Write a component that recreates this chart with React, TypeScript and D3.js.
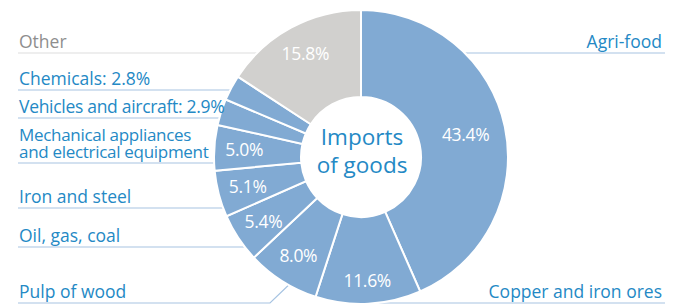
import React from 'react';
import * as d3 from 'd3';

const categories = [
  'Agri-food',
  'Copper and iron ores',
  'Pulp of wood',
  'Oil, gas, coal',
  'Iron and steel',
  'Mechanical appliances and electrical equipment',
  'Vehicles and aircraft',
  'Chemicals',
  'Other',
];
const shares = [43.4, 11.6, 8.0, 5.4, 5.1, 5.0, 2.9, 2.8, 15.8];
const centerTitle = ['Imports', 'of goods'];

// label layout (lines of text, y of the underline)
const labelLines: string[][] = [
  ['Agri-food'],
  ['Copper and iron ores'],
  ['Pulp of wood'],
  ['Oil, gas, coal'],
  ['Iron and steel'],
  ['Mechanical appliances', 'and electrical equipment'],
  ['Vehicles and aircraft: 2.9%'],
  ['Chemicals: 2.8%'],
  ['Other'],
];
const ruleY = [53, 303, 303, 247, 208, 163, 118, 90, 53];
const showPct = [true, true, true, true, true, true, false, false, true];

const W = 683;
const H = 304;
const cx = 361;
const cy = 157;
const rOuter = 147;
const rInner = 60;
const font = '"Open Sans", "Noto Sans", sans-serif';
const blue = '#2489c5';
const fill = '#81aad3';
const gray = '#d1d0ce';

export default function App() {
  const pie = d3.pie<number>().sort(null).value(d => d);
  const arcs = pie(shares);
  const arc = d3.arc<d3.PieArcDatum<number>>().innerRadius(rInner).outerRadius(rOuter);
  const labelArc = (r: number) => d3.arc<d3.PieArcDatum<number>>().innerRadius(r).outerRadius(r);

  const edgeX = (y: number, side: number) => {
    const dy = y - cy;
    const dx = Math.sqrt(Math.max(0, rOuter * rOuter - dy * dy));
    return cx + side * dx;
  };

  return (
    <svg width={W} height={H} style={{ position: 'absolute', left: 0, top: 0 }}>
      {/* leader rules */}
      {categories.map((c, i) => {
        const isRight = i < 2;
        const stroke = i === 8 ? '#dedede' : '#a7c4e2';
        const y = ruleY[i];
        if (i === 2) {
          // pulp of wood: elbow up to the ring
          const ey = 285;
          return (
            <polyline key={c} points={`18,${y} 270,${y} ${edgeX(ey, -1)},${ey}`} fill="none" stroke={stroke} strokeWidth={1.2} />
          );
        }
        return isRight ? (
          <line key={c} x1={edgeX(y, 1)} x2={665} y1={y} y2={y} stroke={stroke} strokeWidth={1.2} />
        ) : (
          <line key={c} x1={18} x2={edgeX(y, -1)} y1={y} y2={y} stroke={stroke} strokeWidth={1.2} />
        );
      })}

      {/* ring */}
      <g transform={`translate(${cx},${cy})`}>
        {arcs.map((a, i) => (
          <path key={categories[i]} d={arc(a) || ''} fill={i === 8 ? gray : fill} stroke="#fff" strokeWidth={2} />
        ))}
        {arcs.map((a, i) => {
          if (!showPct[i]) return null;
          const r = i === 0 ? 107 : i === 1 ? 124 : 117;
          const [x, y] = labelArc(r).centroid(a);
          return (
            <text key={'p' + i} x={x} y={y} dy="0.35em" textAnchor="middle" fill="#fff"
              style={{ fontFamily: font, fontSize: 17.5, letterSpacing: -0.3 }}>
              {d3.format('.1f')(shares[i])}%
            </text>
          );
        })}
        {centerTitle.map((t, k) => (
          <text key={t} x={1} y={-12 + k * 28} textAnchor="middle" fill={blue}
            style={{ fontFamily: font, fontSize: 22.5 }}>
            {t}
          </text>
        ))}
      </g>

      {/* category labels */}
      {labelLines.map((lines, i) => {
        const isRight = i < 2;
        const n = lines.length;
        const x = isRight ? 662 : 19;
        return (
          <text key={categories[i]} x={x} y={ruleY[i] - 5 - (n - 1) * 17}
            textAnchor={isRight ? 'end' : 'start'} fill={i === 8 ? '#8e8e8e' : blue}
            style={{ fontFamily: font, fontSize: n > 1 ? 17 : 17.5, letterSpacing: n > 1 || i === 6 ? -0.3 : 0 }}>
            {lines.map((t, k) => (
              <tspan key={t} x={x} dy={k === 0 ? 0 : 17}>{t}</tspan>
            ))}
          </text>
        );
      })}
    </svg>
  );
}
